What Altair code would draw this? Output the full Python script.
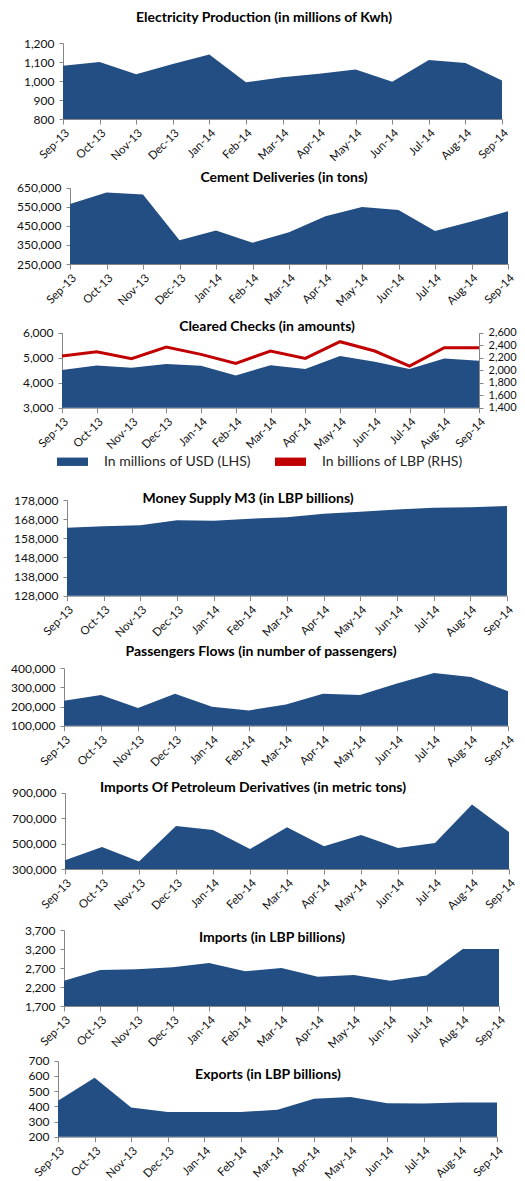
import altair as alt
import pandas as pd

months = ["Sep-13", "Oct-13", "Nov-13", "Dec-13", "Jan-14", "Feb-14", "Mar-14",
          "Apr-14", "May-14", "Jun-14", "Jul-14", "Aug-14", "Sep-14"]

electricity = [1080, 1100, 1035, 1090, 1140, 993, 1020, 1038, 1060, 996, 1110, 1095, 1002]
cement = [565000, 625000, 615000, 375000, 426000, 362000, 416000, 500000, 549000,
          533000, 423000, 473000, 526000]
checks_usd = [4507, 4693, 4600, 4747, 4680, 4293, 4700, 4547, 5070, 4840, 4550, 4973, 4880]
checks_lbp = [2227, 2296, 2184, 2371, 2253, 2109, 2307, 2189, 2456, 2307, 2067, 2360, 2360]
money_m3 = [163540, 164250, 164800, 167400, 167200, 168250, 168950, 170860, 171900,
            173100, 174000, 174150, 174860]
passengers = [231000, 260000, 192500, 267000, 199000, 180000, 211000, 267000, 260000,
              321000, 375600, 355000, 280000]
petroleum = [368000, 473000, 358000, 638000, 607000, 457000, 627500, 478000, 567000,
             465000, 504000, 808000, 591000]
imports = [2367, 2648, 2665, 2718, 2832, 2613, 2700, 2472, 2516, 2367, 2500, 3200, 3200]
exports = [437, 589, 393, 362, 363, 363, 378, 450, 461, 420, 418, 426, 426]

legend_labels = ["In millions of USD (LHS)", "In billions of LBP (RHS)"]

W, H = 525, 1181
FONT = "Lato"
BLUE = "#224E84"
RED = "#C0504D"
AXIS_GRAY = "#868686"
TXT = "#111111"


def axis_common(**kw):
    base = dict(title=None, grid=False, domainColor=AXIS_GRAY, tickColor=AXIS_GRAY,
                tickSize=4, labelFont=FONT, labelColor=TXT)
    base.update(kw)
    return alt.Axis(**base)


def x_enc(x0, x1, ybot, show=True):
    ax = axis_common(orient="bottom", offset=ybot - H, labelAngle=315, labelFontSize=11.5,
                     labelPadding=3, tickSize=5) if show else None
    return alt.X("month:N", sort=months,
                 scale=alt.Scale(type="point", range=[x0, x1], padding=0),
                 axis=ax)


color_scale = alt.Scale(domain=legend_labels, range=[BLUE, "#C00000"])
legend = alt.Legend(orient="none", legendX=57, legendY=446, direction="horizontal", title=None,
                    symbolType="M-1,-0.27H1V0.27H-1Z", symbolSize=961, symbolStrokeWidth=0,
                    labelFont=FONT, labelFontSize=14, labelColor="#262626", labelOffset=16,
                    columnPadding=24)


def panel(values, x0, x1, ytop, ybot, lo, hi, step, title, tx, ty, series=None):
    df = pd.DataFrame({"month": months, "v": values})
    enc = dict(
        x=x_enc(x0, x1, ybot),
        y=alt.Y("v:Q", scale=alt.Scale(domain=[lo, hi], range=[ybot, ytop], zero=False, nice=False),
                axis=axis_common(orient="left", offset=-x0, values=list(range(lo, hi + 1, step)),
                                 format=",.0f", labelFontSize=12, labelPadding=5)),
        y2=alt.datum(lo),
    )
    if series is not None:
        df["s"] = series
        enc["color"] = alt.Color("s:N", scale=color_scale, legend=legend)
        area = alt.Chart(df).mark_area(opacity=1, interpolate="linear").encode(**enc)
    else:
        area = alt.Chart(df).mark_area(color=BLUE, opacity=1, interpolate="linear").encode(**enc)
    t = alt.Chart(pd.DataFrame({"t": [title]})).mark_text(
        font=FONT, fontSize=14, fontWeight="bold", color="#000000", align="center", baseline="middle"
    ).encode(text="t:N", x=alt.value(tx), y=alt.value(ty))
    return [area, t]


layers = []
layers += panel(electricity, 63, 502, 43, 119, 800, 1200, 100,
                "Electricity Production (in millions of Kwh)", 264, 18)
layers += panel(cement, 70, 508, 187.7, 264, 250000, 650000, 100000,
                "Cement Deliveries (in tons)", 284, 178)
layers += panel(checks_usd, 62, 479, 332.7, 407.7, 3000, 6000, 1000,
                "Cleared Checks (in amounts)", 267, 327, series=legend_labels[0])

df_lbp = pd.DataFrame({"month": months, "v": checks_lbp, "s": legend_labels[1]})
line = alt.Chart(df_lbp).mark_line(strokeWidth=3).encode(
    x=x_enc(62, 479, 407.7, show=False),
    y=alt.Y("v:Q", scale=alt.Scale(domain=[1400, 2600], range=[407.7, 332.7], zero=False, nice=False),
            axis=axis_common(orient="right", offset=479 - W, values=list(range(1400, 2601, 200)),
                             format=",.0f", labelFontSize=11, labelPadding=5)),
    color=alt.Color("s:N", scale=color_scale, legend=legend),
)
layers.append(line)

layers += panel(money_m3, 67, 507, 500, 595.7, 128000, 178000, 10000,
                "Money Supply M3 (in LBP billions)", 248, 499)
layers += panel(passengers, 64, 508, 668.3, 725.7, 100000, 400000, 100000,
                "Passengers Flows (in number of passengers)", 261, 652)
layers += panel(petroleum, 65, 509, 792.7, 869, 300000, 900000, 200000,
                "Imports Of Petroleum Derivatives (in metric tons)", 253, 788)
layers += panel(imports, 64, 499, 930, 1006, 1700, 3700, 500,
                "Imports (in LBP billions)", 272, 938)
layers += panel(exports, 58, 497, 1060.8, 1136.7, 200, 700, 100,
                "Exports (in LBP billions)", 268, 1075)

chart = alt.layer(*layers).resolve_scale(
    x="independent", y="independent"
).resolve_axis(
    x="independent", y="independent"
).properties(
    width=W, height=H, autosize=alt.AutoSizeParams(type="none"), padding=0,
    background="white"
).configure_view(stroke=None)

chart.save("out.html", embed_options={"renderer": "svg", "actions": False})
